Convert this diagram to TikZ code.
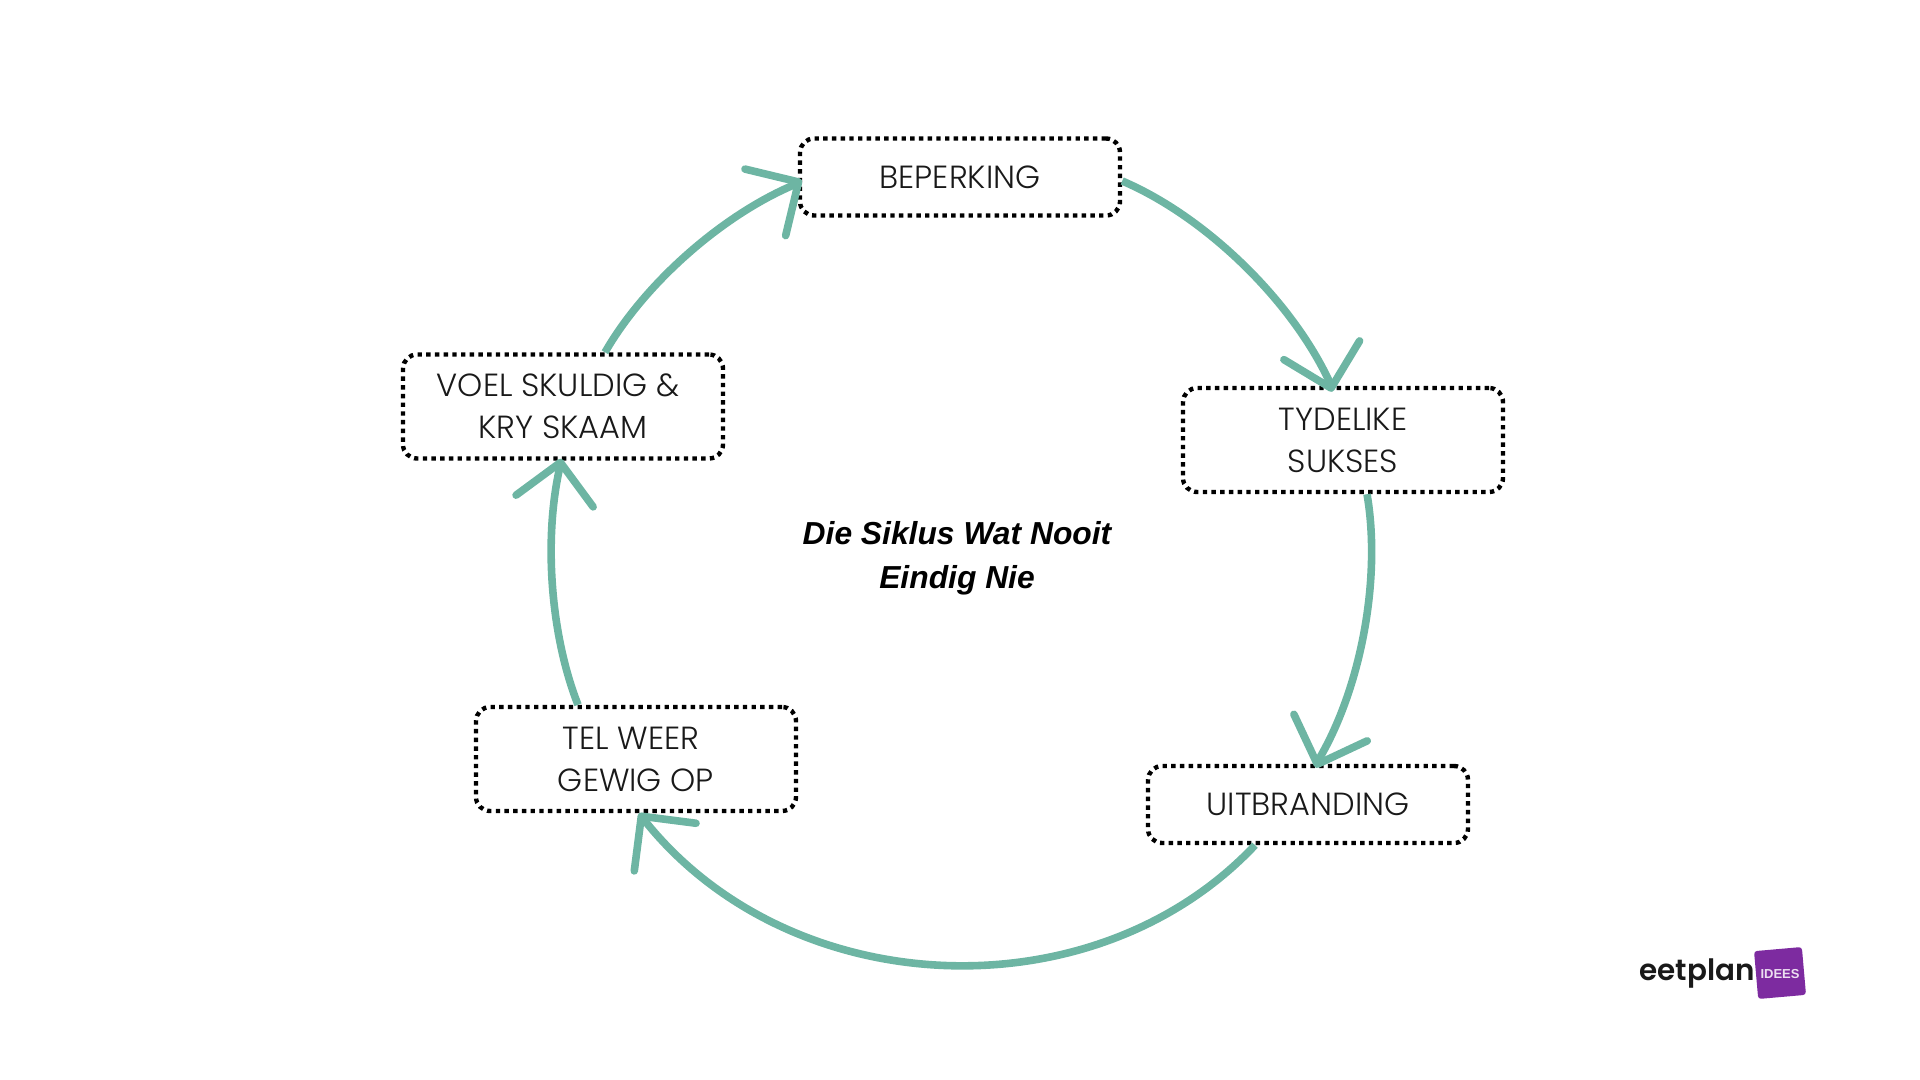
\documentclass[tikz,border=0pt]{standalone}
\usepackage{fontspec}
\setmainfont{Liberation Sans}
\newfontfamily\boxfont{Poppins Light}
\newfontfamily\logofont{Poppins SemiBold}
\usetikzlibrary{calc,arrows.meta}
\definecolor{flowgreen}{HTML}{6DB5A3}
\definecolor{logopurple}{HTML}{7D2BA0}
\tikzset{
  stage/.style={draw=black,line width=2.2pt,dash pattern=on 2.2pt off 2.15pt,rounded corners=7pt,
    minimum width=160pt,inner sep=0pt,align=center,font=\boxfont\fontsize{16}{21}\selectfont,text=black!90},
  flow/.style={draw=flowgreen,line width=3.8pt,
    -{Straight Barb[length=19.5pt,width=39pt,line width=3.8pt,round]}},
}
\begin{document}
\begin{tikzpicture}[x=0.5pt,y=-0.5pt]
\path[use as bounding box] (0,0) rectangle (1920,1080);
\node[stage,minimum height=38.5pt] (beperk) at (960,177) {BEPERKING};
\node[stage,minimum height=52pt] (tyd) at (1343,440) {TYDELIKE\\SUKSES};
\node[stage,minimum height=38.5pt] (uit) at (1308,804.5) {UITBRANDING};
\node[stage,minimum height=52pt] (tel) at (636,759) {TEL WEER\hspace*{5pt}\\GEWIG OP};
\node[stage,minimum height=52pt] (voel) at (563,406.5) {VOEL SKULDIG \&\hspace*{5pt}\\KRY SKAAM};
\node[font=\bfseries\itshape\fontsize{15.9}{22}\selectfont,align=center,inner sep=0pt] (title) at (957,558) {Die Siklus Wat Nooit\\Eindig Nie};
% connector ends
\coordinate (a1s) at ($(beperk.east)+(0,4)$);
\coordinate (a1t) at ($(tyd.north)+(-11,6)$);
\coordinate (a2s) at ($(tyd.south)+(24,0)$);
\coordinate (a2t) at ($(uit.north)+(8,4)$);
\coordinate (a3s) at ($(uit.south)+(-53,0)$);
\coordinate (a3t) at ($(tel.south)+(3,0)$);
\coordinate (a4s) at ($(tel.north)+(-58,0)$);
\coordinate (a4t) at ($(voel.south)+(-2,-2)$);
\coordinate (a5s) at ($(voel.north)+(42,0)$);
\coordinate (a5t) at ($(beperk.west)+(4,3)$);
\draw[flow] (a1s) to[bend left=21,looseness=.8] ($(a1t)+(-2.4,-9.7)$) -- (a1t);
\draw[flow] (a2s) to[bend left=20,looseness=.8] ($(a2t)+(3.4,-9.4)$) -- (a2t);
\draw[flow] (a3s) to[bend left=49,looseness=.98] ($(a3t)+(6.1,7.9)$) -- (a3t);
\draw[flow] (a4s) to[bend left=17,looseness=.8] ($(a4t)+(-1.5,9.9)$) -- (a4t);
\draw[flow] (a5s) to[bend left=18.5,looseness=.8] ($(a5t)+(-8.5,5.2)$) -- (a5t);
% logo
\node[font=\logofont\fontsize{14.7}{18}\selectfont,inner sep=0pt,text=black!90] (logotext) at (1697,973) {eetplan};
\node[fill=logopurple,rounded corners=1.5pt,minimum width=24pt,minimum height=24pt,rotate=5,inner sep=0pt] (logobox) at (1780,973) {};
\node[font=\bfseries\fontsize{6.5}{8}\selectfont,text=white!85!logopurple,inner sep=0pt] (logolabel) at (1780,974) {IDEES};
\end{tikzpicture}
\end{document}
